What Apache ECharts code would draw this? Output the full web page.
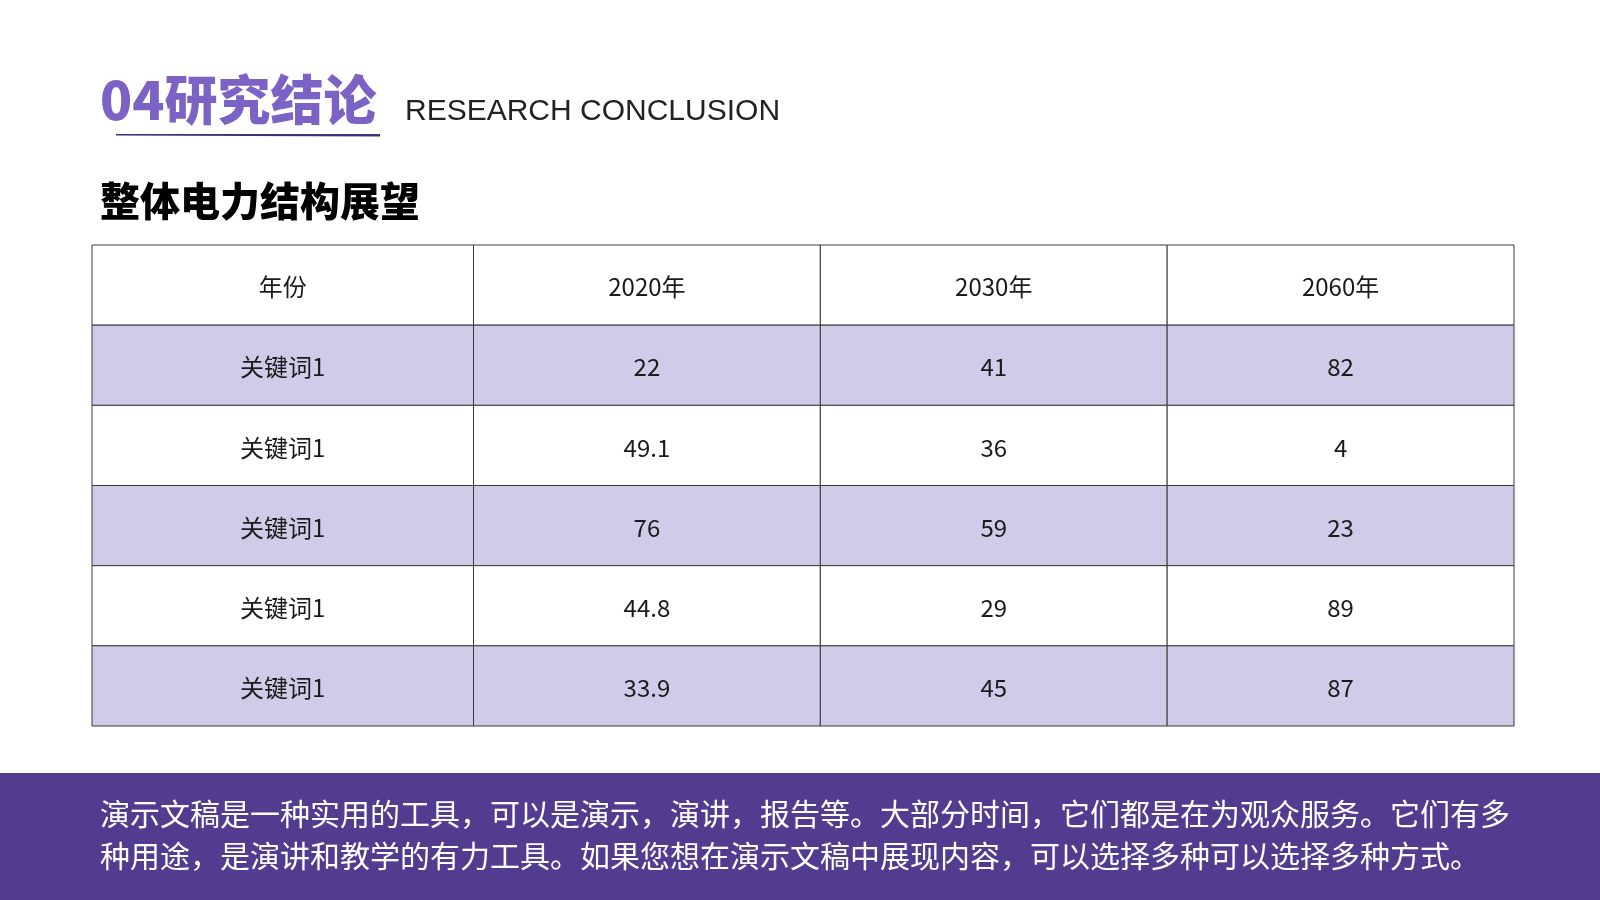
<!DOCTYPE html>
<html>
<head>
<meta charset="utf-8">
<title>整体电力结构展望</title>
<script src="https://cdn.jsdelivr.net/npm/echarts@6/dist/echarts.min.js"></script>
<style>
    html, body { margin: 0; padding: 0; background: #fff; }
    #main { width: 1600px; height: 900px; }
</style>
</head>
<body>
<div id="main"></div>
<script>
// 表格数据
var headLabel = '年份';
var years = ['2020年', '2030年', '2060年'];
var keywords = ['关键词1', '关键词1', '关键词1', '关键词1', '关键词1'];
var v2020 = [22, 49.1, 76, 44.8, 33.9];
var v2030 = [41, 36, 59, 29, 45];
var v2060 = [82, 4, 23, 89, 87];

var footText = '演示文稿是一种实用的工具，可以是演示，演讲，报告等。大部分时间，它们都是在为观众服务。它们有多\n' +
    '种用途，是演讲和教学的有力工具。如果您想在演示文稿中展现内容，可以选择多种可以选择多种方式。';

var font = '"Noto Sans CJK SC", "Noto Sans", sans-serif';

// 行名（y轴类目）
var rowNames = [headLabel].concat(keywords.map(function(k, i) { return k + '_' + i; }));

// 拼成单元格 [列, 行, 文本]
var cells = [];
var rows = [[headLabel].concat(years)];
for (var i = 0; i < keywords.length; i++) {
    rows.push([keywords[i], v2020[i], v2030[i], v2060[i]]);
}
rows.forEach(function(r, ri) {
    r.forEach(function(t, ci) {
        cells.push([ci, ri, String(t)]);
    });
});

// 第一列稍宽
var firstW = 1.1;
function colLeft(c) { return c == 0 ? 0 : firstW + (c - 1); }
function colRight(c) { return c == 0 ? firstW : firstW + c; }

var chart = echarts.init(document.getElementById('main'));
var option = {
    backgroundColor: '#ffffff',
    animation: false,
    title: [{
        text: '04研究结论',
        left: 95, top: 68,
        textStyle: { fontFamily: font, fontSize: 53, fontWeight: 900, color: '#7b62c4' }
    }, {
        text: 'RESEARCH CONCLUSION',
        left: 400, top: 92,
        textStyle: { fontFamily: '"Liberation Sans", Arial, sans-serif', fontSize: 30, fontWeight: 'normal', color: '#222222' }
    }, {
        text: '整体电力结构展望',
        left: 95, top: 176,
        textStyle: { fontFamily: font, fontSize: 40, fontWeight: 900, color: '#000000' }
    }],
    graphic: [{
        type: 'polygon',
        shape: { points: [[116, 134], [380, 134], [380, 136.5], [116, 135.5]] },
        style: { fill: '#3d3479' }
    }, {
        type: 'rect',
        shape: { x: 0, y: 773, width: 1600, height: 127 },
        style: { fill: '#533b90' }
    }, {
        type: 'text',
        left: 100, top: 793,
        style: {
            text: footText,
            font: '30px ' + font,
            fill: '#ffffff',
            lineHeight: 42
        }
    }],
    grid: { left: 92, top: 245, width: 1422, height: 481 },
    xAxis: { type: 'value', min: 0, max: firstW + 3, show: false },
    yAxis: { type: 'category', data: rowNames, inverse: true, show: false },
    series: [{
        type: 'custom',
        data: cells,
        renderItem: function(params, api) {
            var c = api.value(0), r = api.value(1);
            var p0 = api.coord([colLeft(c), r]);
            var p1 = api.coord([colRight(c), r]);
            var h = api.size([0, 1])[1];
            var fill = (r % 2 == 1) ? '#d0cbe9' : '#ffffff';
            return {
                type: 'group',
                children: [{
                    type: 'rect',
                    shape: { x: p0[0], y: p0[1] - h / 2, width: p1[0] - p0[0], height: h },
                    style: { fill: fill, stroke: '#3a3a3a', lineWidth: 1 }
                }, {
                    type: 'text',
                    x: (p0[0] + p1[0]) / 2,
                    y: p0[1] + 2,
                    style: {
                        text: cells[params.dataIndex][2],
                        font: '24px ' + font,
                        fill: '#1a1a1a',
                        align: 'center',
                        verticalAlign: 'middle'
                    }
                }]
            };
        }
    }]
};
chart.setOption(option);
window.onresize = function() {
    chart.resize();
};
</script>
</body>
</html>
